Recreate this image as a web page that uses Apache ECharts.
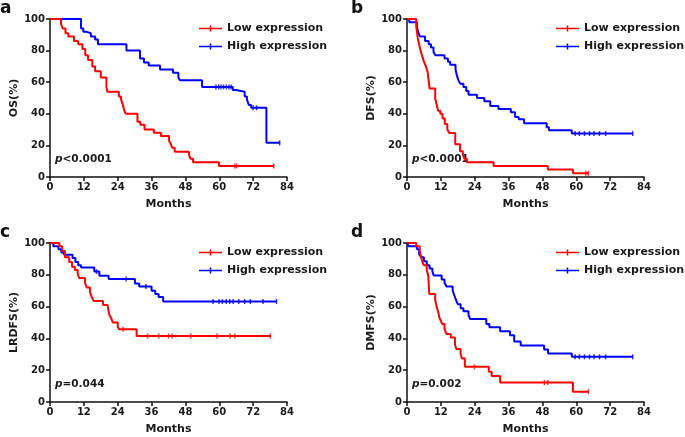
<!DOCTYPE html>
<html>
<head>
    <meta charset="utf-8">
    <title>Survival curves</title>
    <style>
        html, body { margin: 0; padding: 0; background: #fff; }
    </style>
</head>
<body>
    <div id="main" style="width:685px;height:437px"></div>
    <script src="https://cdn.jsdelivr.net/npm/echarts@6/dist/echarts.min.js"></script>
    <script type="text/javascript">

    // x ticks: 0..84 every 12 months, y ticks: 0..100 every 20
    var monthTicks = [0, 12, 24, 36, 48, 60, 72, 84];
    var percentTicks = [0, 20, 40, 60, 80, 100];
    var groupNames = ['Low expression', 'High expression'];
    var panelLetters = ['a', 'b', 'c', 'd'];
    var yTitles = ['OS(%)', 'DFS(%)', 'LRDFS(%)', 'DMFS(%)'];
    var pValues = ['<0.0001', '<0.0001', '=0.044', '=0.002'];

    // Kaplan-Meier steps: [month, survival % after the drop]
    var osLow = [[0,100],[3.9,97],[4.5,94],[5.5,91],[6.5,89],[8.5,86],[10,84],[11.5,81],[12.5,77],[13.5,74],[15,70],[16,67],[18,63],[20,57],[20.3,54],[24.4,51],[25.2,49],[25.8,46],[26.3,42],[26.9,40],[31,35],[32,33],[33.5,30],[36.8,28],[39.3,26],[42.2,23],[42.8,21],[43.3,18.5],[44.2,16],[49.3,14],[49.8,11.5],[50.7,9.3],[59.9,7],[79.3,7]];
    var osHigh = [[0,100],[11,94],[11.8,92],[12.8,91],[14.5,89],[16,87],[17,84],[27.1,80],[31.9,75],[33.3,72.5],[35,70.5],[39,68],[43.6,66],[45.5,63],[46,61.3],[53.9,57],[64.8,55],[66,53.9],[69,51],[69.8,49],[70.5,45.5],[71.3,43.8],[76.7,21.6],[81.4,21.6]];
    var osLowCensor = [65.5, 66.1, 79.3];
    var osHighCensor = [58.8, 59.8, 60.6, 61.5, 62.5, 63.4, 64.2, 72, 73.2, 81.4];

    var dfsLow = [[0,100],[3.3,95],[3.8,88],[4.3,84],[4.8,80],[5.4,76.5],[6,73],[6.7,70],[7.3,66.6],[8,56],[10,49.7],[10.5,46],[11,42],[11.8,40],[12.6,37],[13.4,33.5],[14.3,30],[15,27.9],[17.1,20.7],[18.8,16.3],[19.8,14],[20.4,11.5],[21.2,9.3],[30.7,7],[49.9,4.7],[58.8,2.3],[64.3,2.3]];
    var dfsHigh = [[0,100],[0.8,98],[3.5,95],[4.1,91],[4.6,89],[6.4,86],[7.7,84],[8.5,82],[9.4,79],[10.1,77],[13.3,75],[14.5,73],[15.3,71],[17.2,68],[17.7,64],[18.3,61],[18.9,59],[20,57],[21,54.5],[21.8,52],[24.8,50],[27.4,48],[29.5,45],[32.4,43],[36.8,41],[38.3,38],[39.6,36.5],[41.5,34],[49.5,31.5],[50.3,29.6],[58.4,27.5],[80,27.5]];
    var dfsLowCensor = [63.4, 64.3];
    var dfsHighCensor = [59.6, 61.1, 62.9, 64.7, 66.3, 68.2, 70.4, 80];

    var lrdfsLow = [[0,100],[3.3,98],[4.3,95],[5.3,91],[6.8,88],[7.8,85],[8.8,83],[9.8,81],[10.3,78],[12.4,75],[13,72],[14.2,69],[14.8,66],[15.5,63.6],[18.8,61],[20.4,60],[21,55],[21.6,53],[22.3,50],[24,47.5],[24.5,45.7],[30.7,41.5],[78.1,41.5]];
    var lrdfsHigh = [[0,100],[1.2,98],[3,96],[4,94],[5,92.6],[8,90.5],[9,88],[10,86],[11,84.6],[15.7,82],[17.5,79.4],[20.8,77.3],[30.1,74.5],[31.6,72.6],[36,70],[37.3,68],[38.5,66],[40.1,63.2],[80.3,63.2]];
    var lrdfsLowCensor = [25.9, 34.6, 38.5, 42, 43.2, 49.9, 59.2, 63.9, 65.5, 78.1];
    var lrdfsHighCensor = [16.5, 27, 34, 57.8, 59.9, 61.1, 62.5, 63.7, 64.9, 66.9, 69, 71, 75.5, 80.3];

    var dmfsLow = [[0,100],[3.3,98],[4.5,95],[5,91],[5.5,88],[6,86],[7,82.5],[7.5,80],[7.9,68],[10,64],[10.5,60],[11,57],[11.5,53],[12,51],[12.5,49],[13.3,46],[14,42.7],[15.5,40.6],[17,36],[17.5,33.3],[19,30],[19.5,27.4],[20.5,22.1],[29,19],[30,16.4],[33,12.2],[58.8,6.5],[64.3,6.5]];
    var dmfsHigh = [[0,100],[0.6,98],[3.5,96],[4.3,93],[5,91],[6,88.5],[7,86],[8,84],[9,82],[9.5,79.5],[12.3,77],[13.3,75],[14,72.6],[16.2,70],[16.8,67],[17.4,64],[18,61.5],[19,59],[20,57],[21.8,54.5],[22.4,52.2],[28.1,49],[29.2,47],[33,44.5],[36.5,42],[38,38],[40.3,35.5],[48.6,33],[50,30.5],[58.4,28.4],[80,28.4]];
    var dmfsLowCensor = [23.9, 48.7, 49.9, 64.3];
    var dmfsHighCensor = [59.6, 61.1, 62.9, 64.7, 66.3, 68.2, 70.4, 80];

    var lowSets = [osLow, dfsLow, lrdfsLow, dmfsLow];
    var highSets = [osHigh, dfsHigh, lrdfsHigh, dmfsHigh];
    var lowCensors = [osLowCensor, dfsLowCensor, lrdfsLowCensor, dmfsLowCensor];
    var highCensors = [osHighCensor, dfsHighCensor, lrdfsHighCensor, dmfsHighCensor];

    var RED = '#ff0000', BLUE = '#0000ff';
    var FONT = 'DejaVu Sans';

    // panel boxes (left, top, width, height) of each plot area
    var boxes = [
        [50, 19, 237, 158],
        [407, 19, 237, 158],
        [50, 243, 237, 159],
        [407, 243, 237, 159]
    ];

    // survival value of a step curve at month t (for censor ticks)
    function valueAt(curve, t) {
        var v = curve[0][1];
        for (var i = 0; i < curve.length; i++) {
            if (curve[i][0] <= t) v = curve[i][1];
        }
        return v;
    }

    var myChart = echarts.init(document.getElementById('main'), null, {renderer: 'canvas'});

    var grids = [], xAxes = [], yAxes = [], series = [], legends = [], graphics = [];
    var legendIcon = 'path://M0,3H24V4.6H0Z M11.2,0.5H12.8V7H11.2Z';

    for (var k = 0; k < 4; k++) {
        var b = boxes[k];
        grids.push({left: b[0], top: b[1], width: b[2], height: b[3]});
        xAxes.push({
            type: 'value', gridIndex: k,
            min: monthTicks[0], max: monthTicks[monthTicks.length - 1], interval: 12,
            name: 'Months', nameLocation: 'middle', nameGap: 22,
            nameTextStyle: {fontFamily: FONT, fontWeight: 'bold', fontSize: 11, color: '#1a1a1a'},
            axisLine: {lineStyle: {color: '#111', width: 1.5}},
            axisTick: {length: 4, lineStyle: {width: 1.5}},
            axisLabel: {fontFamily: FONT, fontWeight: 'bold', fontSize: 10, color: '#1a1a1a', margin: 5},
            splitLine: {show: false}
        });
        yAxes.push({
            type: 'value', gridIndex: k,
            min: percentTicks[0], max: percentTicks[percentTicks.length - 1], interval: 20,
            name: yTitles[k], nameLocation: 'middle', nameGap: 30,
            nameTextStyle: {fontFamily: FONT, fontWeight: 'bold', fontSize: 11, color: '#1a1a1a'},
            axisLine: {show: true, lineStyle: {color: '#111', width: 1.5}},
            axisTick: {show: true, length: 4, lineStyle: {width: 1.5}},
            axisLabel: {fontFamily: FONT, fontWeight: 'bold', fontSize: 10, color: '#1a1a1a', margin: 5},
            splitLine: {show: false}
        });

        series.push({
            name: groupNames[0], type: 'line', step: 'end', xAxisIndex: k, yAxisIndex: k,
            data: lowSets[k], symbol: 'none', color: RED,
            lineStyle: {color: RED, width: 2}, z: 3
        });
        series.push({
            name: groupNames[1], type: 'line', step: 'end', xAxisIndex: k, yAxisIndex: k,
            data: highSets[k], symbol: 'none', color: BLUE,
            lineStyle: {color: BLUE, width: 2}, z: 2
        });
        series.push({
            name: 'lowCensor' + k, type: 'scatter', xAxisIndex: k, yAxisIndex: k,
            data: lowCensors[k].map(function (t) { return [t, valueAt(lowSets[k], t)]; }),
            symbol: 'rect', symbolSize: [1.5, 5], itemStyle: {color: RED}, silent: true, z: 4
        });
        series.push({
            name: 'highCensor' + k, type: 'scatter', xAxisIndex: k, yAxisIndex: k,
            data: highCensors[k].map(function (t) { return [t, valueAt(highSets[k], t)]; }),
            symbol: 'rect', symbolSize: [1.5, 5], itemStyle: {color: BLUE}, silent: true, z: 4
        });

        var right = k % 2 === 0;
        legends.push({
            data: groupNames, orient: 'vertical', padding: 0,
            left: right ? 199 : 556, top: b[1] + 4,
            itemWidth: 23, itemHeight: 7, itemGap: 7, icon: legendIcon,
            selectedMode: false,
            textStyle: {fontFamily: FONT, fontWeight: 'bold', fontSize: 11, color: '#1a1a1a'}
        });

        // panel letter
        graphics.push({
            type: 'text', left: right ? 0 : 351, top: b[1] - 19,
            style: {text: panelLetters[k], font: 'bold 17px "DejaVu Sans"', fill: '#111'}
        });
        // p value
        graphics.push({
            type: 'text', left: b[0] + 5, top: b[1] + b[3] - 23,
            style: {
                text: '{i|p}{n|' + pValues[k] + '}',
                rich: {
                    i: {font: 'italic bold 10.5px "DejaVu Sans"', fill: '#1a1a1a'},
                    n: {font: 'bold 10.5px "DejaVu Sans"', fill: '#1a1a1a'}
                }
            }
        });
    }

    var option = {
        animation: false,
        backgroundColor: '#fff',
        grid: grids,
        xAxis: xAxes,
        yAxis: yAxes,
        legend: legends,
        series: series,
        graphic: graphics
    };

    myChart.setOption(option);
    </script>
</body>
</html>
